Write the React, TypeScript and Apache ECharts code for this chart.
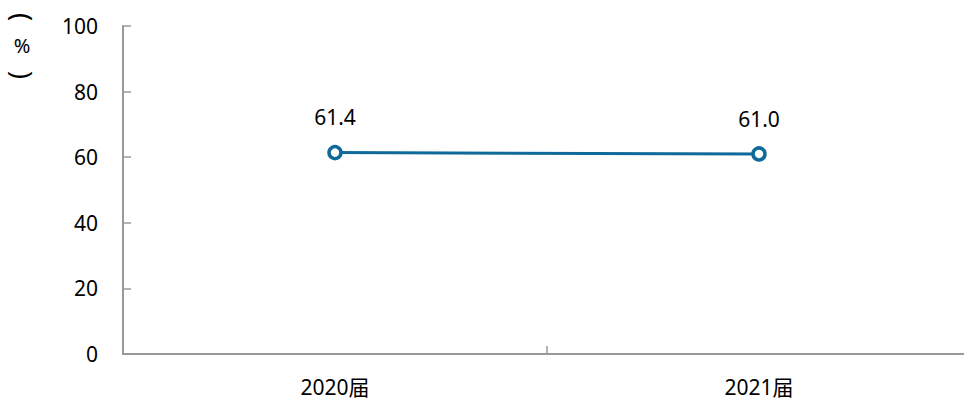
import React, { useEffect, useRef } from "react";
import * as echarts from "echarts";

const categories = ["2020届", "2021届"];
const values = [61.4, 61.0];
const yTicks = { min: 0, max: 100, interval: 20 };
const yUnitParts = ["(", "%", ")"];

const FONT = "'Noto Sans', 'Noto Sans CJK SC', sans-serif";

export default function App() {
  const ref = useRef<HTMLDivElement>(null);
  useEffect(() => {
    if (!ref.current) return;
    const chart = echarts.init(ref.current, null, { renderer: "svg" });
    const unitY = [17, 45, 75];
    chart.setOption({
      animation: false,
      grid: {
        left: 123,
        width: 848,
        top: 26,
        bottom: 46,
        containLabel: false,
        outerBoundsMode: "none",
      },
      graphic: yUnitParts.map((t, i) => ({
        type: "text",
        x: 22,
        y: unitY[i],
        rotation: i === 1 ? 0 : -Math.PI / 2,
        style: {
          text: t,
          font: i === 1 ? `20px ${FONT}` : `27px 'Noto Sans', sans-serif`,
          fill: "#000",
          textAlign: "center",
          textVerticalAlign: "middle",
        },
      })),
      xAxis: {
        type: "category",
        data: categories,
        boundaryGap: true,
        axisLine: { lineStyle: { color: "#999", width: 2 } },
        axisTick: { show: true, inside: true, length: 8, lineStyle: { color: "#999", width: 1.5 } },
        axisLabel: { color: "#000", fontSize: 21, fontFamily: FONT, margin: 22 },
        splitLine: { show: false },
      },
      yAxis: {
        type: "value",
        min: yTicks.min,
        max: yTicks.max,
        interval: yTicks.interval,
        axisLine: { show: true, lineStyle: { color: "#999", width: 2 } },
        axisTick: { show: true, inside: true, length: 8, lineStyle: { color: "#999", width: 1.5 } },
        axisLabel: { color: "#000", fontSize: 21, fontFamily: FONT, margin: 25 },
        splitLine: { show: false },
      },
      series: [
        {
          type: "line",
          data: values,
          symbol: "circle",
          symbolSize: 12,
          itemStyle: { color: "#fff", borderColor: "#0F6A9A", borderWidth: 3.5 },
          lineStyle: { color: "#0F6A9A", width: 3 },
          label: {
            show: true,
            position: "top",
            distance: 17,
            color: "#000",
            fontSize: 21,
            fontFamily: FONT,
            formatter: (p: any) => Number(p.value).toFixed(1),
          },
        },
      ],
    });
    return () => chart.dispose();
  }, []);
  return (
    <div
      ref={ref}
      style={{ position: "absolute", left: 0, top: 0, width: 964, height: 400 }}
    />
  );
}
